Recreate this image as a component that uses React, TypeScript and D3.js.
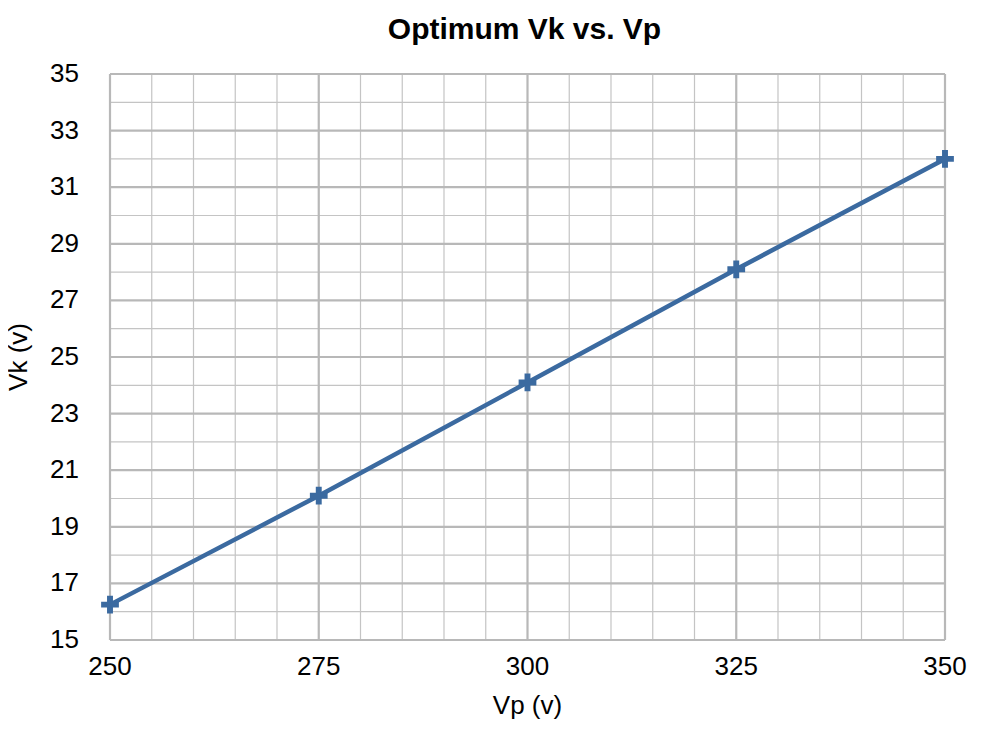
import * as d3 from "d3";
import { useEffect, useRef } from "react";

const vp = [250, 275, 300, 325, 350];
const vk = [16.25, 20.1, 24.1, 28.1, 32.0];

const xMajorTicks = [250, 275, 300, 325, 350];
const yMajorTicks = [15, 17, 19, 21, 23, 25, 27, 29, 31, 33, 35];

const title = "Optimum Vk vs. Vp";
const xTitle = "Vp (v)";
const yTitle = "Vk (v)";

const width = 990;
const height = 740;

export default function App() {
  const svgRef = useRef<SVGSVGElement>(null);

  useEffect(() => {
    if (!svgRef.current) return;
    const svg = d3.select(svgRef.current);
    svg.selectAll("*").remove();

    const margin = { top: 74, right: 45, bottom: 100, left: 110 };
    const innerWidth = width - margin.left - margin.right;
    const innerHeight = height - margin.top - margin.bottom;
    const font = "'Liberation Sans', Arial, Helvetica, sans-serif";

    const xScale = d3.scaleLinear().domain([250, 350]).range([0, innerWidth]);
    const yScale = d3.scaleLinear().domain([15, 35]).range([innerHeight, 0]);

    const g = svg.append("g").attr("transform", `translate(${margin.left},${margin.top})`);

    // Minor grid
    const xMinor = d3.range(250, 351, 5).filter((d) => !xMajorTicks.includes(d));
    const yMinor = d3.range(15, 35.01, 1).filter((d) => !yMajorTicks.includes(d));

    g.append("g")
      .selectAll("line")
      .data(xMinor)
      .enter()
      .append("line")
      .attr("x1", (d) => xScale(d))
      .attr("x2", (d) => xScale(d))
      .attr("y1", 0)
      .attr("y2", innerHeight)
      .style("stroke", "#c4c4c4")
      .style("stroke-width", 1.2);

    g.append("g")
      .selectAll("line")
      .data(yMinor)
      .enter()
      .append("line")
      .attr("x1", 0)
      .attr("x2", innerWidth)
      .attr("y1", (d) => yScale(d))
      .attr("y2", (d) => yScale(d))
      .style("stroke", "#c4c4c4")
      .style("stroke-width", 1.2);

    // Major grid
    g.append("g")
      .selectAll("line")
      .data(xMajorTicks)
      .enter()
      .append("line")
      .attr("x1", (d) => xScale(d))
      .attr("x2", (d) => xScale(d))
      .attr("y1", 0)
      .attr("y2", innerHeight)
      .style("stroke", "#b8b8b8")
      .style("stroke-width", 2.2);

    g.append("g")
      .selectAll("line")
      .data(yMajorTicks)
      .enter()
      .append("line")
      .attr("x1", 0)
      .attr("x2", innerWidth)
      .attr("y1", (d) => yScale(d))
      .attr("y2", (d) => yScale(d))
      .style("stroke", "#b8b8b8")
      .style("stroke-width", 2.2);

    // Tick labels
    g.append("g")
      .selectAll("text")
      .data(yMajorTicks)
      .enter()
      .append("text")
      .attr("x", -31)
      .attr("y", (d) => yScale(d) + 8)
      .attr("text-anchor", "end")
      .style("font-family", font)
      .style("font-size", "26px")
      .style("fill", "#000")
      .text((d) => d);

    g.append("g")
      .selectAll("text")
      .data(xMajorTicks)
      .enter()
      .append("text")
      .attr("x", (d) => xScale(d))
      .attr("y", innerHeight + 35)
      .attr("text-anchor", "middle")
      .style("font-family", font)
      .style("font-size", "26px")
      .style("fill", "#000")
      .text((d) => d);

    // Line
    const data = vp.map((x, i) => ({ x, y: vk[i] }));
    const line = d3
      .line<{ x: number; y: number }>()
      .x((d) => xScale(d.x))
      .y((d) => yScale(d.y));

    g.append("path")
      .datum(data)
      .attr("d", line)
      .style("fill", "none")
      .style("stroke", "#3b6aa0")
      .style("stroke-width", 4.5);

    // Plus markers
    const cross = d3.symbol().type(d3.symbolCross).size(175);
    g.append("g")
      .selectAll("path")
      .data(data)
      .enter()
      .append("path")
      .attr("transform", (d) => `translate(${xScale(d.x)},${yScale(d.y)})`)
      .attr("d", cross)
      .style("fill", "#3b6aa0");

    // Title
    svg
      .append("text")
      .attr("x", margin.left + innerWidth / 2 - 3)
      .attr("y", 39)
      .attr("text-anchor", "middle")
      .style("font-family", font)
      .style("font-size", "30px")
      .style("font-weight", "bold")
      .style("fill", "#000")
      .text(title);

    // Axis titles
    svg
      .append("text")
      .attr("x", margin.left + innerWidth / 2)
      .attr("y", 714)
      .attr("text-anchor", "middle")
      .style("font-family", font)
      .style("font-size", "26px")
      .style("fill", "#000")
      .text(xTitle);

    svg
      .append("text")
      .attr("transform", `translate(27,${margin.top + innerHeight / 2}) rotate(-90)`)
      .attr("text-anchor", "middle")
      .style("font-family", font)
      .style("font-size", "26px")
      .style("fill", "#000")
      .text(yTitle);
  }, []);

  return (
    <div style={{ margin: -8 }}>
      <svg ref={svgRef} width={width} height={height} style={{ display: "block", background: "#fff" }} />
    </div>
  );
}
